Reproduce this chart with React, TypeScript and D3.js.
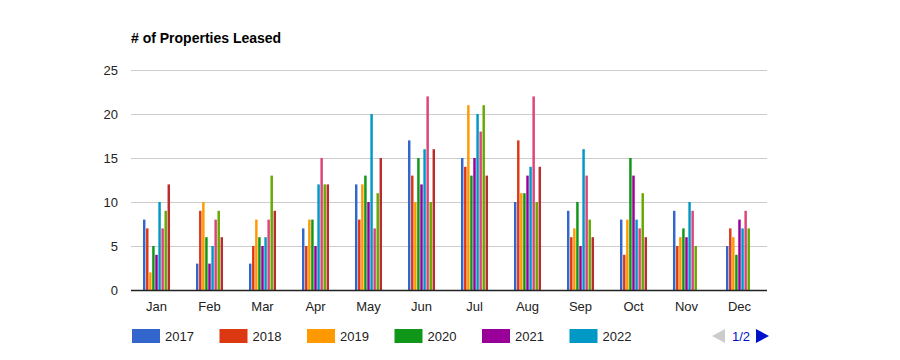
import React, { useEffect, useRef } from "react";
import * as d3 from "d3";

// # of properties leased per month, one bar per year

const months = ["Jan", "Feb", "Mar", "Apr", "May", "Jun", "Jul", "Aug", "Sep", "Oct", "Nov", "Dec"];
const years = ["2017", "2018", "2019", "2020", "2021", "2022", "2023", "2024", "2025"];
const colors = ["#3366cc", "#dc3912", "#ff9900", "#109618", "#990099", "#0099c6", "#dd4477", "#66aa00", "#b82e2e"];

// values[month][year]
const jan = [8, 7, 2, 5, 4, 10, 7, 9, 12];
const feb = [3, 9, 10, 6, 3, 5, 8, 9, 6];
const mar = [3, 5, 8, 6, 5, 6, 8, 13, 9];
const apr = [7, 5, 8, 8, 5, 12, 15, 12, 12];
const may = [12, 8, 12, 13, 10, 20, 7, 11, 15];
const jun = [17, 13, 10, 15, 12, 16, 22, 10, 16];
const jul = [15, 14, 21, 13, 15, 20, 18, 21, 13];
const aug = [10, 17, 11, 11, 13, 14, 22, 10, 14];
const sep = [9, 6, 7, 10, 5, 16, 13, 8, 6];
const oct = [8, 4, 8, 15, 13, 8, 7, 11, 6];
const nov = [9, 5, 6, 7, 6, 10, 9, 5, null];
const dec = [5, 7, 6, 4, 8, 7, 9, 7, null];
const values = [jan, feb, mar, apr, may, jun, jul, aug, sep, oct, nov, dec];

const yTicks = [0, 5, 10, 15, 20, 25];
const legendPage = years.slice(0, 6);

const FONT = "'Liberation Sans', Arial, sans-serif";

const App = () => {
    const svgRef = useRef<SVGSVGElement>(null);

    useEffect(() => {
        const width = 900;
        const height = 360;
        const margin = { top: 70, right: 133, bottom: 70, left: 131 };

        const svg = d3.select(svgRef.current);
        svg.selectAll("*").remove();

        const x0 = d3.scaleBand()
            .domain(months)
            .range([margin.left - 1, width - margin.right - 1])
            .paddingInner(0.49)
            .paddingOuter(0.245);

        const x1 = d3.scaleBand()
            .domain(years)
            .range([0, x0.bandwidth()])
            .paddingInner(0.2);

        const y = d3.scaleLinear()
            .domain([0, 25])
            .range([height - margin.bottom, margin.top]);

        // gridlines + y labels
        const grid = svg.append("g");
        grid.selectAll("line")
            .data(yTicks)
            .join("line")
            .attr("x1", margin.left)
            .attr("x2", width - margin.right)
            .attr("y1", d => y(d) + 0.5)
            .attr("y2", d => y(d) + 0.5)
            .attr("stroke", "#cccccc");
        grid.selectAll("text")
            .data(yTicks)
            .join("text")
            .attr("x", margin.left - 13)
            .attr("y", d => y(d))
            .attr("dy", "0.35em")
            .attr("text-anchor", "end")
            .attr("font-family", FONT)
            .attr("font-size", 13)
            .attr("fill", "#222")
            .text(d => d);

        // bars
        svg.append("g")
            .selectAll("g")
            .data(values)
            .join("g")
            .attr("transform", (_, i) => `translate(${x0(months[i])},0)`)
            .selectAll("rect")
            .data(row => row.map((v, j) => ({ v, j })).filter(d => d.v != null))
            .join("rect")
            .attr("x", d => x1(years[d.j]))
            .attr("y", d => y(d.v))
            .attr("width", x1.bandwidth())
            .attr("height", d => y(0) - y(d.v))
            .attr("fill", d => colors[d.j])
            .append("title")
            .text(d => `${years[d.j]}: ${d.v}`);

        // baseline
        svg.append("line")
            .attr("x1", margin.left)
            .attr("x2", width - margin.right)
            .attr("y1", y(0) + 0.5)
            .attr("y2", y(0) + 0.5)
            .attr("stroke", "#222")
            .attr("stroke-width", 1.6);

        // x labels
        svg.append("g")
            .selectAll("text")
            .data(months)
            .join("text")
            .attr("x", d => x0(d) + x0.bandwidth() / 2)
            .attr("y", y(0) + 21)
            .attr("text-anchor", "middle")
            .attr("font-family", FONT)
            .attr("font-size", 13)
            .attr("fill", "#222")
            .text(d => d);

        // title
        svg.append("text")
            .attr("x", 131)
            .attr("y", 43)
            .attr("font-family", FONT)
            .attr("font-size", 14)
            .attr("font-weight", "bold")
            .attr("fill", "#000")
            .text("# of Properties Leased");

        // legend (page 1 of 2)
        const legend = svg.append("g")
            .selectAll("g")
            .data(legendPage)
            .join("g")
            .attr("transform", (_, i) => `translate(${132 + i * 87.5},329)`);
        legend.append("rect")
            .attr("width", 28)
            .attr("height", 14)
            .attr("fill", (_, i) => colors[i]);
        legend.append("text")
            .attr("x", 33)
            .attr("y", 12)
            .attr("font-family", FONT)
            .attr("font-size", 13)
            .attr("fill", "#222")
            .text(d => d);

        // pager
        const pager = svg.append("g").attr("transform", "translate(0,336)");
        pager.append("path")
            .attr("d", "M712,0 L725,-7 L725,7 Z")
            .attr("fill", "#cccccc");
        pager.append("text")
            .attr("x", 741)
            .attr("y", 5)
            .attr("text-anchor", "middle")
            .attr("font-family", FONT)
            .attr("font-size", 13)
            .attr("fill", "#0011cc")
            .text("1/2");
        pager.append("path")
            .attr("d", "M769,0 L756,-7 L756,7 Z")
            .attr("fill", "#0011cc");
    }, []);

    return <svg ref={svgRef} width={900} height={360} style={{ display: "block", margin: -8 }}></svg>;
};

export default App;
